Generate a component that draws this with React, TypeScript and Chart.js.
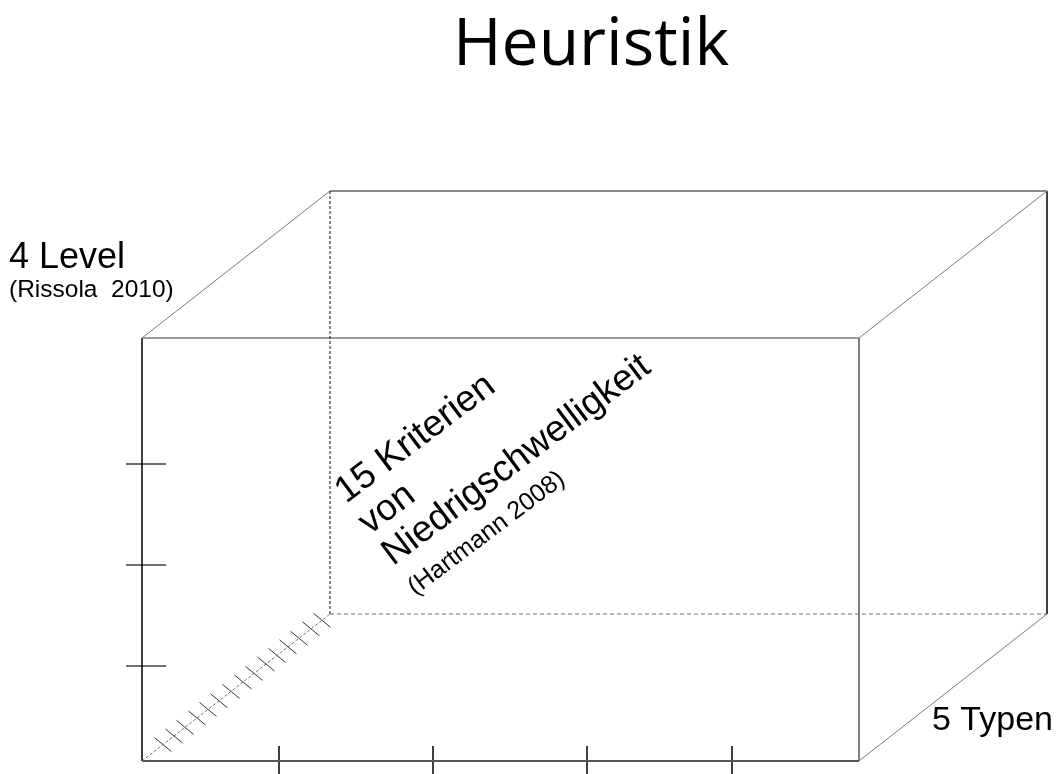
import React, { useEffect, useRef } from "react";
import { Chart, registerables } from "chart.js";

Chart.register(...registerables);

// ---- Diagram data (diagram units = chart scale units) ----
const TITLE = "Heuristik";
const levelLabel = ["4 Level", "(Rissola  2010)"];
const criteriaLabel = ["15 Kriterien", "von", "Niedrigschwelligkeit", "(Hartmann 2008)"];
const typeLabel = "5 Typen";

// front face of the cube: [left, right] and [top, bottom]
const frontX = [142, 859];
const frontY = [338, 761];
// depth offset of the back face
const depth = [188, -147];
// level boundaries on the left front edge (3 ticks -> 4 levels)
const levelTicks = [464, 565, 666];
// type boundaries on the bottom front edge (4 ticks -> 5 types)
const typeTicks = [279, 433, 587, 732];
// criteria marks along the depth edge (15 criteria), x positions
const criteriaTicks = [163, 174, 185, 197, 208, 219, 231, 243, 254, 266, 277, 288, 299, 311, 322];

type P = { x: number; y: number };

function seg(a: P, b: P, color: string, width: number, dash: number[] = []) {
  return {
    data: [a, b],
    showLine: true,
    borderColor: color,
    borderWidth: width,
    borderDash: dash,
    pointRadius: 0,
    pointHoverRadius: 0,
    fill: false,
    tension: 0,
  };
}

function buildDatasets() {
  const [L, R] = frontX;
  const [T, B] = frontY;
  const [dx, dy] = depth;
  const fTL = { x: L, y: T }, fTR = { x: R, y: T }, fBL = { x: L, y: B }, fBR = { x: R, y: B };
  const bTL = { x: L + dx, y: T + dy }, bTR = { x: R + dx, y: T + dy };
  const bBL = { x: L + dx, y: B + dy }, bBR = { x: R + dx, y: B + dy };
  const ds: any[] = [];
  // hidden (dashed) edges
  ds.push(seg(bTL, bBL, "#111111", 1, [3, 2]));
  ds.push(seg(bBL, bBR, "#6e6e6e", 1, [4, 3]));
  ds.push(seg(fBL, bBL, "#6e6e6e", 1, [3, 2]));
  // back face visible edges
  ds.push(seg(bTL, bTR, "#8a8a8a", 2));
  ds.push(seg(bTR, bBR, "#000000", 1.5));
  // depth edges
  ds.push(seg(fTL, bTL, "#7a7a7a", 1));
  ds.push(seg(fTR, bTR, "#7a7a7a", 1));
  ds.push(seg(fBR, bBR, "#7a7a7a", 1));
  // front face
  ds.push(seg(fTL, fTR, "#7a7a7a", 1.5));
  ds.push(seg(fTL, fBL, "#000000", 1.5));
  ds.push(seg(fBL, fBR, "#555555", 2));
  ds.push(seg(fTR, fBR, "#808080", 2));
  // level ticks
  levelTicks.forEach((y) => ds.push(seg({ x: L - 16, y }, { x: L + 24, y }, "#404040", 1.5)));
  // type ticks
  typeTicks.forEach((x) => ds.push(seg({ x, y: B - 15 }, { x, y: B + 20 }, "#000000", 1.5)));
  // criteria ticks along depth edge
  criteriaTicks.forEach((x) => {
    const y = B + ((x - L) * dy) / dx;
    ds.push(seg({ x: x - 8.5, y: y - 7 }, { x: x + 8.5, y: y + 7 }, "#333333", 1));
  });
  return ds;
}

const textPlugin = {
  id: "diagramText",
  afterDraw(chart: any) {
    const { ctx } = chart;
    const xs = chart.scales.x;
    const ys = chart.scales.y;
    const px = (v: number) => xs.getPixelForValue(v);
    const py = (v: number) => ys.getPixelForValue(v);
    const sans = "'Liberation Sans', Arial, sans-serif";
    ctx.save();
    ctx.fillStyle = "#000000";
    ctx.textBaseline = "alphabetic";
    // title
    ctx.textAlign = "center";
    ctx.font = "66px 'Open Sans', sans-serif";
    ctx.fillText(TITLE, px(591), py(65));
    // level label
    ctx.textAlign = "left";
    ctx.font = `36px ${sans}`;
    ctx.fillText(levelLabel[0], px(9), py(268));
    ctx.font = `24.5px ${sans}`;
    ctx.fillText(levelLabel[1], px(9), py(297));
    // type label
    ctx.font = `34px ${sans}`;
    ctx.fillText(typeLabel, px(932), py(730));
    // criteria label, rotated along the depth direction
    ctx.translate(px(346), py(504));
    ctx.rotate((-37 * Math.PI) / 180);
    ctx.font = `37px ${sans}`;
    ctx.fillText(criteriaLabel[0], 0, 0);
    ctx.fillText(criteriaLabel[1], 0, 39);
    ctx.fillText(criteriaLabel[2], 0, 78);
    ctx.font = `25px ${sans}`;
    ctx.fillText(criteriaLabel[3], 0, 115);
    ctx.restore();
  },
};

export default function App() {
  const ref = useRef<HTMLCanvasElement | null>(null);
  useEffect(() => {
    if (!ref.current) return;
    const chart = new Chart(ref.current, {
      type: "scatter",
      data: { datasets: buildDatasets() },
      options: {
        responsive: false,
        animation: false,
        devicePixelRatio: 1,
        layout: { padding: 0 },
        events: [],
        plugins: {
          legend: { display: false },
          tooltip: { enabled: false },
          title: { display: false },
        },
        scales: {
          x: { type: "linear", min: 0, max: 1059, display: false },
          y: { type: "linear", min: 0, max: 774, reverse: true, display: false },
        },
      } as any,
      plugins: [textPlugin],
    });
    return () => chart.destroy();
  }, []);
  return (
    <div style={{ position: "absolute", left: 0, top: 0, width: 1059, height: 774, background: "#ffffff" }}>
      <canvas ref={ref} width={1059} height={774} style={{ display: "block" }} />
    </div>
  );
}
